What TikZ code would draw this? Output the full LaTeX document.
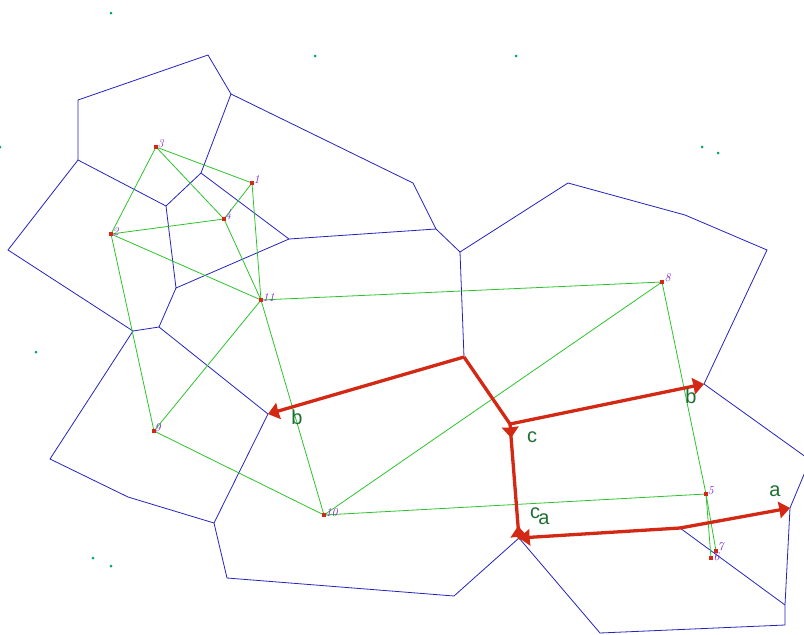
\documentclass[tikz,border=0pt]{standalone}
\usepackage{fontspec}
\newfontfamily\labfont{Liberation Sans}
\usetikzlibrary{calc}
\definecolor{vblue}{RGB}{35,35,190}
\definecolor{dgreen}{RGB}{45,195,45}
\definecolor{pred}{RGB}{210,40,20}
\definecolor{lgreen}{RGB}{30,110,50}
\definecolor{npurple}{RGB}{125,40,205}
\definecolor{dotgreen}{RGB}{0,165,95}
\newcommand\redhead[2]{\fill[pred] (#1) -- ($(#1)!14pt!38:(#2)$) -- ($(#1)!10.5pt!(#2)$) -- ($(#1)!14pt!-38:(#2)$) -- cycle;}
\begin{document}
\begin{tikzpicture}[x=1pt,y=-1pt,
  vor/.style={draw=vblue,line width=0.8pt},
  del/.style={draw=dgreen,line width=0.8pt},
  redline/.style={draw=pred,line width=3.3pt,line join=round},
  site/.style={rectangle,fill=pred,minimum size=3pt,inner sep=0pt},
  numlab/.style={text=npurple,font=\fontsize{12}{12}\selectfont\itshape,inner sep=0.5pt},
  edgelab/.style={text=lgreen,font=\labfont\fontsize{20}{20}\selectfont,inner sep=0pt},
  lone/.style={circle,fill=dotgreen,minimum size=3pt,inner sep=0pt}]
\useasboundingbox (0,0) rectangle (804,635);
\clip (0,0) rectangle (804,635);
% Voronoi vertices
\coordinate (v1) at (78,100);
\coordinate (v2) at (208,55);
\coordinate (v3) at (231,94);
\coordinate (v4) at (413,183);
\coordinate (v5) at (436,229);
\coordinate (v6) at (460,252);
\coordinate (v7) at (568,183);
\coordinate (v8) at (685,215);
\coordinate (v9) at (767,250);
\coordinate (I) at (704,384);
\coordinate (v11) at (810,460);
\coordinate (P) at (790,508);
\coordinate (v13) at (785,605);
\coordinate (v14) at (785,625);
\coordinate (v15) at (600,633);
\coordinate (J) at (519,538);
\coordinate (v17) at (454,596);
\coordinate (v18) at (227,578);
\coordinate (v19) at (214,523);
\coordinate (v20) at (128,497);
\coordinate (v21) at (50,459);
\coordinate (v22) at (133,331);
\coordinate (v23) at (159,327);
\coordinate (v24) at (176,288);
\coordinate (v25) at (166,206);
\coordinate (v26) at (201,173);
\coordinate (v27) at (78,160);
\coordinate (v28) at (8,250);
\coordinate (v29) at (289,239);
\coordinate (D) at (268,414);
\coordinate (T) at (464,357);
\coordinate (U) at (510,424);
\coordinate (Q) at (680,528);
\coordinate (cU) at ($(U)!14pt!(J)$);
\coordinate (uJ) at ($(J)!12pt!(U)$);
% Voronoi edges
\draw[vor] (v1) -- (v2) -- (v3) -- (v4) -- (v5) -- (v6) -- (v7) -- (v8) -- (v9) -- (I) -- (v11) -- (P) -- (v13) -- (v14) -- (v15) -- (J) -- (v17) -- (v18) -- (v19) -- (v20) -- (v21) -- (v22) -- (v28) -- (v27) -- (v1);
\draw[vor] (v27) -- (v25) -- (v26) -- (v3);
\draw[vor] (v26) -- (v29) -- (v5);
\draw[vor] (v25) -- (v24) -- (v29);
\draw[vor] (v24) -- (v23) -- (v22);
\draw[vor] (v23) -- (D) -- (v19);
\draw[vor] (v6) -- (T);
\draw[vor] (v13) -- (Q);
% sites
\node[site] (s3) at (156,147) {};
\node[site] (s1) at (252,183) {};
\node[site] (s4) at (224,219) {};
\node[site] (s2) at (111,234) {};
\node[site] (s11) at (261,300) {};
\node[site] (s9) at (154,431) {};
\node[site] (s10) at (324,515) {};
\node[site] (s8) at (662,282) {};
\node[site] (s5) at (706,494) {};
\node[site] (s6) at (711,558) {};
\node[site] (s7) at (716,551) {};
% Delaunay edges
\draw[del] (s3.center) -- (s1.center) -- (s4.center) -- (s3.center) -- (s2.center) -- (s4.center) -- (s11.center) -- (s1.center);
\draw[del] (s2.center) -- (s11.center) -- (s9.center) -- (s2.center);
\draw[del] (s9.center) -- (s10.center) -- (s11.center) -- (s8.center) -- (s10.center) -- (s5.center) -- (s8.center);
\draw[del] (s5.center) -- (s6.center);
\draw[del] (s5.center) -- (s7.center);
\foreach \s in {s1,s2,s3,s4,s5,s6,s7,s8,s9,s10,s11} \fill[pred] ($(\s)+(-1.6,-1.6)$) rectangle ($(\s)+(1.6,1.6)$);
% site labels
\node[numlab,anchor=south west] (n3) at ($(s3)+(1,1)$) {3};
\node[numlab,anchor=south west] (n1) at ($(s1)+(1,1)$) {1};
\node[numlab,anchor=south west] (n4) at ($(s4)+(1,2)$) {4};
\node[numlab,anchor=south west] (n2) at ($(s2)+(1,2)$) {2};
\node[numlab,anchor=south west] (n11) at ($(s11)+(1,2)$) {11};
\node[numlab,anchor=south west] (n9) at ($(s9)+(0,1)$) {9};
\node[numlab,anchor=south west] (n10) at ($(s10)+(1,2)$) {10};
\node[numlab,anchor=south west] (n8) at ($(s8)+(2,0)$) {8};
\node[numlab,anchor=south west] (n5) at ($(s5)+(1,1)$) {5};
\node[numlab,anchor=south west] (n7) at ($(s7)+(1,0)$) {7};
\node[numlab,anchor=south west] (n6) at ($(s6)+(2,3)$) {6};
% red path
\draw[redline] (T) -- (U) -- (J) -- (Q);
\draw[redline,shorten >=6pt] (T) -- (D);
\draw[redline,shorten >=6pt] (U) -- (I);
\draw[redline,shorten >=6pt] (Q) -- (P);
\redhead{D}{T}
\redhead{I}{U}
\redhead{P}{Q}
\redhead{J}{Q}
\redhead{cU}{U}
\redhead{uJ}{J}
% edge labels
\node[edgelab] (lb1) at (297,417) {b};
\node[edgelab] (lc1) at (532,437) {c};
\node[edgelab] (lb2) at (691,396) {b};
\node[edgelab] (lc2) at (535,513) {c};
\node[edgelab] (la2) at (544,519) {a};
\node[edgelab] (la1) at (775,491) {a};
% lone points
\node[lone] (p1) at (111,13) {};
\node[lone] (p2) at (315,56) {};
\node[lone] (p3) at (516,56) {};
\node[lone] (p4) at (0,147) {};
\node[lone] (p5) at (702,147) {};
\node[lone] (p6) at (718,153) {};
\node[lone] (p7) at (36,352) {};
\node[lone] (p8) at (93,558) {};
\node[lone] (p9) at (111,566) {};
\end{tikzpicture}
\end{document}
